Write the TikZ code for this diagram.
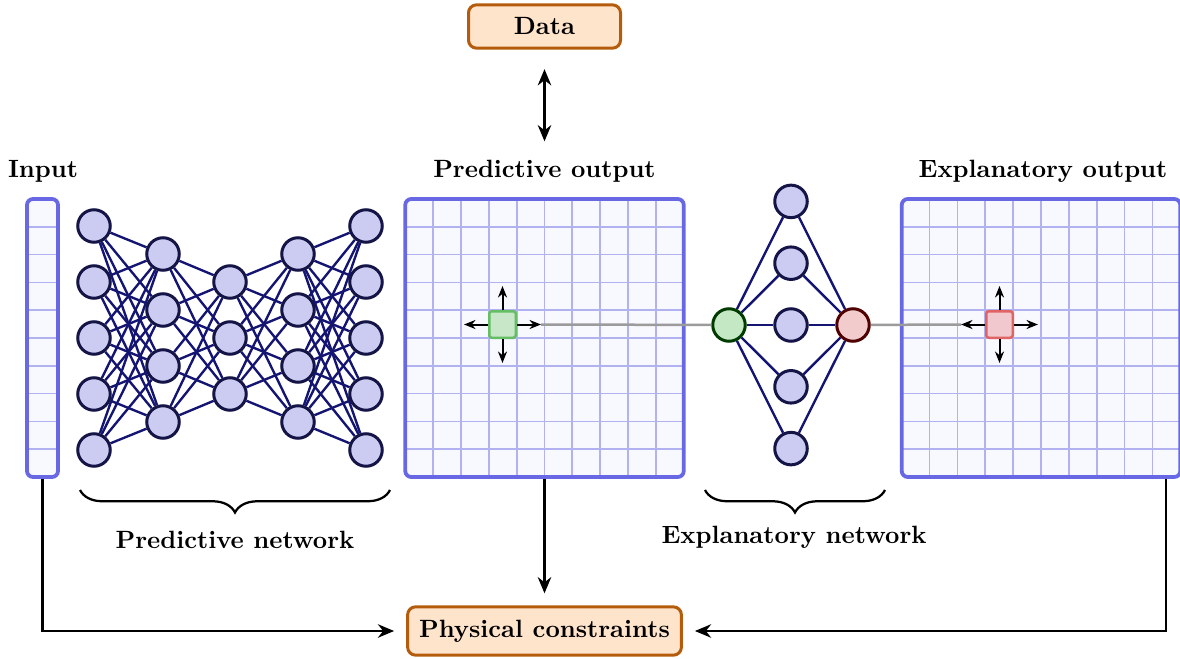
\documentclass[tikz,border=0pt]{standalone}
\usetikzlibrary{positioning,calc,arrows.meta,backgrounds,decorations.pathreplacing}
\definecolor{gridblue}{RGB}{104,104,228}
\definecolor{gridfill}{RGB}{248,248,255}
\definecolor{cellrule}{RGB}{178,178,240}
\definecolor{neuronfill}{RGB}{204,204,242}
\definecolor{neurondraw}{RGB}{20,20,70}
\definecolor{linknavy}{RGB}{20,20,115}
\definecolor{boxorange}{RGB}{180,92,12}
\definecolor{boxfill}{RGB}{255,228,204}
\definecolor{probegrey}{RGB}{155,155,155}
\definecolor{greenfill}{RGB}{196,232,196}
\definecolor{greendraw}{RGB}{0,60,0}
\definecolor{redfill}{RGB}{242,204,204}
\definecolor{reddraw}{RGB}{80,0,0}
\definecolor{mgreenfill}{RGB}{200,230,200}
\definecolor{mgreendraw}{RGB}{100,190,100}
\definecolor{mredfill}{RGB}{240,200,205}
\definecolor{mreddraw}{RGB}{225,100,100}

\begin{document}
\begin{tikzpicture}[x=0.4pt, y=-0.4pt,
    title/.style={font=\bfseries},
    infobox/.style={rectangle, rounded corners=3.2pt, draw=boxorange, fill=boxfill, line width=1.2pt,
        font=\bfseries, inner xsep=4.6pt, inner ysep=5.2pt},
    gridnode/.style n args={2}{rectangle, rounded corners=2.4pt, draw=gridblue, fill=gridfill,
        line width=1.5pt, inner sep=0pt,
        path picture={
            \foreach \c in {1,...,#1}
                \draw[cellrule, line width=0.7pt]
                    ($(path picture bounding box.north west)!\c/#1!(path picture bounding box.north east)$) --
                    ($(path picture bounding box.south west)!\c/#1!(path picture bounding box.south east)$);
            \foreach \r in {1,...,#2}
                \draw[cellrule, line width=0.7pt]
                    ($(path picture bounding box.north west)!\r/#2!(path picture bounding box.south west)$) --
                    ($(path picture bounding box.north east)!\r/#2!(path picture bounding box.south east)$);
        }},
    neuron/.style={circle, draw=neurondraw, fill=neuronfill, line width=1.2pt, minimum size=13pt, inner sep=0pt},
    link/.style={draw=linknavy, line width=0.95pt},
    marker/.style={rectangle, rounded corners=1pt, line width=1pt, minimum size=10.6pt, inner sep=0pt},
    smallarrow/.style={line width=0.8pt, -{Stealth[length=4.6pt,width=3.6pt]}},
    probe/.style={draw=probegrey, line width=1pt},
    flow/.style={line width=0.9pt, >={Stealth[length=6.5pt,width=5.4pt]}},
    brace/.style={decorate, decoration={brace, mirror, amplitude=9pt}, line width=0.9pt}]

    \useasboundingbox (0,0) rectangle (1180,659);

    % boxes
    \node[infobox, minimum width=60.8pt] (data) at (544.5,26.5) {Data};
    \node[infobox] (phys) at (544.5,631) {Physical constraints};

    % grids
    \node[gridnode={1}{10}, minimum width=12.4pt, minimum height=111.2pt] (inp) at (42.5,338) {};
    \node[gridnode={10}{10}, minimum width=111.4pt, minimum height=111.2pt] (pout) at (544.5,338) {};
    \node[gridnode={10}{10}, minimum width=111.4pt, minimum height=111.2pt] (eout) at (1041,338) {};

    \node[title] (inptitle) at (43,171) {Input};
    \node[title] (pouttitle) at (544.5,171) {Predictive output};
    \node[title] (eouttitle) at (1043,171) {Explanatory output};

    % predictive network
    \foreach \l/\x/\k in {1/94/5, 2/163/4, 3/230/3, 4/298/4, 5/366/5}
        \foreach \n in {1,...,\k}
            \node[neuron] (p\l-\n) at (\x,{338+(\n-(\k+1)/2)*56}) {};
    \begin{scope}[on background layer]
        \foreach \l/\nl/\k/\m in {1/2/5/4, 2/3/4/3, 3/4/3/4, 4/5/4/5}
            \foreach \a in {1,...,\k}
                \foreach \b in {1,...,\m}
                    \draw[link] (p\l-\a) -- (p\nl-\b);
    \end{scope}

    % explanatory network
    \node[neuron, draw=greendraw, fill=greenfill] (eg) at (729,325) {};
    \node[neuron, draw=reddraw, fill=redfill] (er) at (853,325) {};
    \foreach \n in {1,...,5}
        \node[neuron] (e\n) at (791,{325+(\n-3)*61.8}) {};
    \begin{scope}[on background layer]
        \foreach \n in {1,...,5}
            \draw[link] (eg) -- (e\n) -- (er);
    \end{scope}

    % probes
    \node[marker, draw=mgreendraw, fill=mgreenfill] (gsq) at (502.5,324.5) {};
    \draw[smallarrow] (gsq.east) -- ++(24,0) coordinate (gsqE);
    \draw[smallarrow] (gsq.west) -- ++(-24,0);
    \draw[smallarrow] (gsq.north) -- ++(0,-24);
    \draw[smallarrow] (gsq.south) -- ++(0,24);
    \node[marker, draw=mreddraw, fill=mredfill] (rsq) at (999.5,324.5) {};
    \draw[smallarrow] (rsq.east) -- ++(24,0);
    \draw[smallarrow] (rsq.west) -- ++(-24,0) coordinate (rsqW);
    \draw[smallarrow] (rsq.north) -- ++(0,-24);
    \draw[smallarrow] (rsq.south) -- ++(0,24);
    \draw[probe] (gsqE) -- (eg);
    \draw[probe] (er) -- (rsqW);

    % braces
    \draw[brace] (80,490) -- (390,490);
    \node[title] (pnet) at (235,540) {Predictive network};
    \draw[brace] (705,490) -- (885,490);
    \node[title] (enet) at (794,537) {Explanatory network};

    % flows
    \draw[flow, <->, shorten <=7.8pt, shorten >=3.9pt] (data.south) -- (pouttitle.north);
    \draw[flow, ->, shorten >=4.8pt] (pout.south) -- (phys.north);
    \draw[flow, ->, shorten >=4.8pt] (inp.south) |- (phys.west);
    \draw[flow, ->, shorten >=4.8pt] ([xshift=-6.4pt]eout.south east) |- (phys.east);
\end{tikzpicture}
\end{document}
